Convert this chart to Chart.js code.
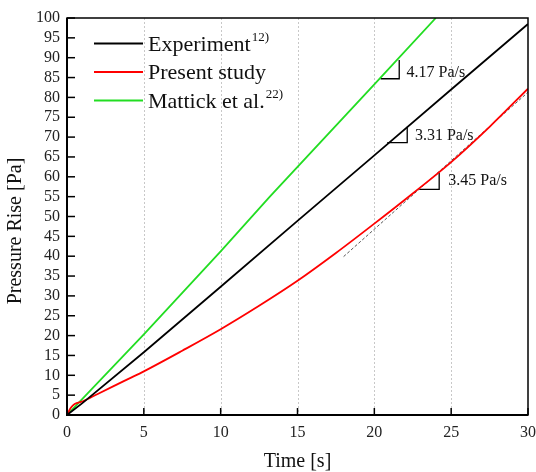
<!DOCTYPE html>
<html>
<head>
<meta charset="utf-8">
<script src="https://cdn.jsdelivr.net/npm/chart.js@4.4.0/dist/chart.umd.min.js"></script>
<style>
  html, body { margin: 0; padding: 0; background: #fff; }
  #wrap { width: 536px; height: 472px; }
</style>
</head>
<body>
<div id="wrap"><canvas id="myChart" width="536" height="472"></canvas></div>
<script>
// values
const expTime = [0, 1, 5, 10, 15, 20, 25, 30];
const expPress = [0, 3.0, 15.8, 32.3, 48.9, 65.4, 82.0, 98.5];
const simTime = [0, 0.25, 0.5, 1, 2, 3, 4, 5, 7.5, 10, 12.5, 15, 17.5, 20, 22.5, 25, 27.5, 30];
const simPress = [0, 1.8, 2.8, 3.4, 5.3, 7.2, 9.1, 11.0, 16.2, 21.6, 27.5, 33.8, 40.8, 48.2, 55.8, 63.7, 72.6, 82.2];
const mattTime = [0, 5, 10, 13.2, 20, 24];
const mattPress = [0, 20.3, 41.2, 55.0, 83.3, 100];
const fitTime = [18, 30];
const fitPress = [39.9, 81.3];

// slope triangles
const slopeLabels = ['4.17 Pa/s', '3.31 Pa/s', '3.45 Pa/s'];
const triX = [[20.41, 21.62], [20.84, 22.14], [22.92, 24.22]];
const triY = [[84.7, 89.4], [68.6, 72.6], [56.85, 61.0]];
const labelX = [22.1, 22.64, 24.81];
const labelY = [86.2, 70.3, 58.9];

const xTicks = [0, 5, 10, 15, 20, 25, 30];
const yTicks = [];
for (let v = 0; v <= 100; v += 5) yTicks.push(v);

const legendNames = ['Experiment', 'Present study', 'Mattick et al.'];
const legendSups = ['12)', '', '22)'];
const legendColors = ['#000000', '#ff0000', '#22dd22'];

const xTitle = 'Time [s]';
const yTitle = 'Pressure Rise [Pa]';

const serif = "'Liberation Serif', 'Times New Roman', serif";
Chart.defaults.font.family = serif;

function pts(xs, ys) {
  return xs.map((x, i) => ({ x: x, y: ys[i] }));
}

const datasets = [
  { label: 'Experiment', data: pts(expTime, expPress), borderColor: legendColors[0], borderWidth: 1.8 },
  { label: 'Present study', data: pts(simTime, simPress), borderColor: legendColors[1], borderWidth: 1.8, cubicInterpolationMode: 'monotone' },
  { label: 'Mattick et al.', data: pts(mattTime, mattPress), borderColor: legendColors[2], borderWidth: 1.8 },
  { label: 'fit', data: pts(fitTime, fitPress), borderColor: '#555', borderWidth: 1, borderDash: [3, 2] }
];
triX.forEach((tx, i) => {
  datasets.push({
    label: 'tri' + i,
    data: [{ x: tx[0], y: triY[i][0] }, { x: tx[1], y: triY[i][0] }, { x: tx[1], y: triY[i][1] }],
    borderColor: '#000', borderWidth: 1.3
  });
});

const framePlugin = {
  id: 'frame',
  beforeDatasetsDraw(chart) {
    const { ctx, chartArea: a, scales: { x } } = chart;
    ctx.save();
    ctx.strokeStyle = '#c8c8c8';
    ctx.lineWidth = 1;
    ctx.setLineDash([2, 2]);
    xTicks.forEach(v => {
      if (v === 0 || v === 30) return;
      const px = Math.round(x.getPixelForValue(v)) + 0.5;
      ctx.beginPath();
      ctx.moveTo(px, a.top);
      ctx.lineTo(px, a.bottom);
      ctx.stroke();
    });
    ctx.restore();
  },
  afterDraw(chart) {
    const { ctx, chartArea: a, scales: { x, y } } = chart;
    ctx.save();
    // frame
    ctx.strokeStyle = '#000';
    ctx.lineWidth = 1.5;
    ctx.strokeRect(a.left, a.top, a.right - a.left, a.bottom - a.top);
    ctx.lineWidth = 2;
    ctx.beginPath();
    ctx.moveTo(a.left, a.top);
    ctx.lineTo(a.left, a.bottom);
    ctx.lineTo(a.right, a.bottom);
    ctx.stroke();
    // inward ticks
    ctx.lineWidth = 1.5;
    yTicks.forEach(v => {
      const py = y.getPixelForValue(v);
      ctx.beginPath();
      ctx.moveTo(a.left, py);
      ctx.lineTo(a.left + 8, py);
      ctx.stroke();
    });
    xTicks.forEach(v => {
      const px = x.getPixelForValue(v);
      ctx.beginPath();
      ctx.moveTo(px, a.bottom);
      ctx.lineTo(px, a.bottom - 7);
      ctx.stroke();
    });
    // axis titles
    ctx.fillStyle = '#111';
    ctx.font = '20px ' + serif;
    ctx.textAlign = 'center';
    ctx.textBaseline = 'middle';
    ctx.fillText(xTitle, (a.left + a.right) / 2, 462);
    ctx.save();
    ctx.translate(16, 231);
    ctx.rotate(-Math.PI / 2);
    ctx.fillText(yTitle, 0, 0);
    ctx.restore();
    // slope labels
    ctx.font = '16px ' + serif;
    ctx.textAlign = 'left';
    slopeLabels.forEach((t, i) => {
      ctx.fillText(t, x.getPixelForValue(labelX[i]), y.getPixelForValue(labelY[i]));
    });
    // legend
    ctx.textBaseline = 'alphabetic';
    legendNames.forEach((name, i) => {
      const ly = a.top + 25.5 + i * 28.5;
      ctx.strokeStyle = legendColors[i];
      ctx.lineWidth = 1.8;
      ctx.beginPath();
      ctx.moveTo(a.left + 27, ly);
      ctx.lineTo(a.left + 76, ly);
      ctx.stroke();
      ctx.fillStyle = '#111';
      ctx.font = '22px ' + serif;
      const tx = a.left + 81;
      ctx.fillText(name, tx, ly + 7);
      if (legendSups[i]) {
        const w = ctx.measureText(name).width;
        ctx.font = '13px ' + serif;
        ctx.fillText(legendSups[i], tx + w + 1, ly - 3);
      }
    });
    ctx.restore();
  }
};

const ctx = document.getElementById('myChart').getContext('2d');
const chart = new Chart(ctx, {
  type: 'line',
  data: { datasets: datasets },
  options: {
    responsive: false,
    animation: false,
    layout: { padding: { top: 18, right: 8, left: 0, bottom: 0 } },
    elements: { point: { radius: 0 }, line: { tension: 0 } },
    plugins: { legend: { display: false }, tooltip: { enabled: false } },
    scales: {
      x: {
        type: 'linear',
        min: 0, max: 30,
        afterBuildTicks: s => { s.ticks = xTicks.map(v => ({ value: v })); },
        afterFit: s => { s.height = 57; s.paddingLeft = 0; s.paddingRight = 0; },
        grid: { display: false, drawTicks: false },
        border: { display: false },
        ticks: { color: '#222', font: { size: 16 }, padding: 8, maxRotation: 0 }
      },
      y: {
        min: 0, max: 100,
        afterBuildTicks: s => { s.ticks = yTicks.map(v => ({ value: v })); },
        afterFit: s => { s.width = 67; s.paddingTop = 0; s.paddingBottom = 0; },
        grid: { display: false, drawTicks: false },
        border: { display: false },
        ticks: { color: '#222', font: { size: 16 }, padding: 7, autoSkip: false }
      }
    }
  },
  plugins: [framePlugin]
});
</script>
</body>
</html>
